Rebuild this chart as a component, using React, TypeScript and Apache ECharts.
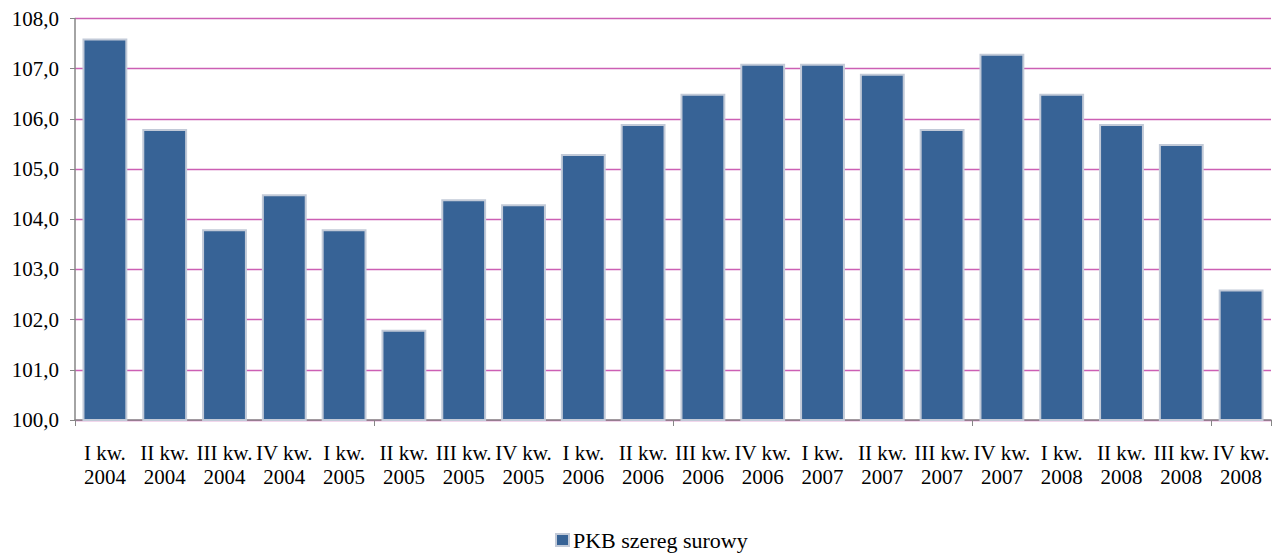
import React, { useEffect, useRef } from "react";
import * as echarts from "echarts";

const categories = [
  "I kw.\n2004", "II kw.\n2004", "III kw.\n2004", "IV kw.\n2004",
  "I kw.\n2005", "II kw.\n2005", "III kw.\n2005", "IV kw.\n2005",
  "I kw.\n2006", "II kw.\n2006", "III kw.\n2006", "IV kw.\n2006",
  "I kw.\n2007", "II kw.\n2007", "III kw.\n2007", "IV kw.\n2007",
  "I kw.\n2008", "II kw.\n2008", "III kw.\n2008", "IV kw.\n2008",
];
const pkbValues = [
  107.6, 105.8, 103.8, 104.5, 103.8, 101.8, 104.4, 104.3, 105.3, 105.9,
  106.5, 107.1, 107.1, 106.9, 105.8, 107.3, 106.5, 105.9, 105.5, 102.6,
];
const seriesName = "PKB szereg surowy";

export default function App() {
  const ref = useRef<HTMLDivElement>(null);
  useEffect(() => {
    if (!ref.current) return;
    const chart = echarts.init(ref.current, null, { renderer: "svg" });
    const font = "Liberation Serif";
    chart.setOption({
      animation: false,
      textStyle: { fontFamily: font },
      grid: { left: 67, right: 6, top: 8, bottom: 134, containLabel: false },
      legend: {
        top: 521,
        left: 547,
        itemWidth: 13,
        itemHeight: 12,
        itemGap: 4,
        padding: 0,
        textStyle: { fontFamily: font, fontSize: 22, color: "#000", padding: [0, 0, 0, -1] },
        data: [{ name: seriesName, icon: "rect" }],
      },
      xAxis: {
        type: "category",
        data: categories,
        boundaryGap: true,
        axisLine: { lineStyle: { color: "#868686", width: 1.5 } },
        axisTick: { show: true, interval: 4, length: 6, lineStyle: { color: "#868686" } },
        axisLabel: {
          interval: 0,
          fontFamily: font,
          fontSize: 21,
          color: "#000",
          lineHeight: 24,
          margin: 21,
        },
      },
      yAxis: {
        type: "value",
        min: 100,
        max: 108,
        interval: 1,
        axisLine: { show: true, lineStyle: { color: "#868686", width: 1.5 } },
        axisTick: { show: true, length: 5, lineStyle: { color: "#868686" } },
        axisLabel: {
          fontFamily: font,
          fontSize: 21,
          color: "#000",
          margin: 16,
          formatter: (v: number) => v.toFixed(1).replace(".", ","),
        },
        splitLine: { show: true, lineStyle: { color: "#cc5fb4", width: 1.3 } },
      },
      series: [
        {
          name: seriesName,
          type: "bar",
          data: pkbValues,
          barCategoryGap: "25%",
          itemStyle: {
            color: "#376396",
            borderColor: "#c2cad8",
            borderWidth: 2,
          },
        },
      ],
    });
    return () => chart.dispose();
  }, []);
  return <div ref={ref} style={{ width: 1269, height: 546 }} />;
}
